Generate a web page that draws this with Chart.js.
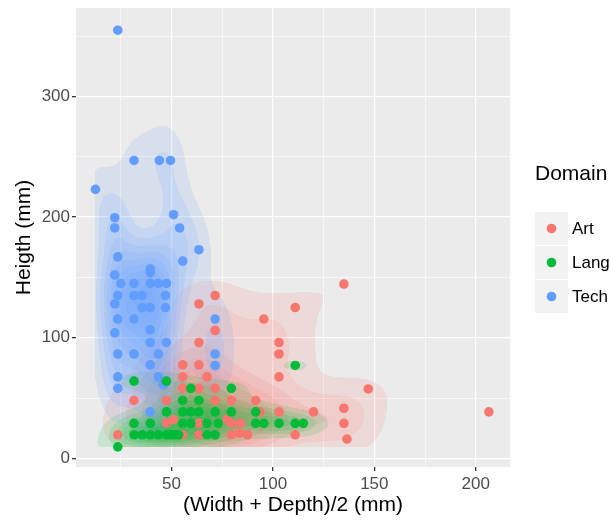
<!DOCTYPE html>
<html>
<head>
<meta charset="utf-8">
<script src="https://cdn.jsdelivr.net/npm/chart.js@4.4.1/dist/chart.umd.min.js"></script>
<style>
  html, body { margin: 0; padding: 0; background: #fff; }
  canvas { display: block; }
</style>
</head>
<body>
<canvas id="chart" width="611" height="520"></canvas>
<script>
// values
const domains = ['Art', 'Lang', 'Tech'];

const artX = [71.5, 63.5, 111, 95.5, 71.5, 63.5, 103, 103, 55.5, 63.5, 55.5, 67.5, 103, 55.5, 63.5, 71.5, 147,
  31.5, 47.5, 71.5, 79.5, 91.5, 93.5, 103, 120, 135, 206.5, 47.5, 51, 63.5, 77.5, 79.5, 84, 135, 135,
  23.5, 55.5, 63.5, 79.5, 83.5, 87.5, 111, 136.5];
const artY = [135, 128, 125, 115.5, 106, 96, 96, 86.5, 77.5, 77.5, 67.5, 67.5, 67.5, 58, 58, 58, 57.5,
  48, 48, 48, 48, 48, 38.5, 38.5, 38.5, 41.5, 38.5, 29.5, 32, 29, 32, 29, 29, 29, 144.5,
  19.5, 19.5, 19.5, 19.5, 21, 19.5, 19.5, 16];

const langX = [31.5, 47.5, 59.5, 79.5, 111, 55.5, 63.5, 47.5, 55.5, 59.5, 63.5, 71.5, 79.5, 91.5,
  31.5, 39.5, 55.5, 59.5, 67.5, 73, 91.5, 95.5, 103, 111, 115,
  31.5, 35.5, 39.5, 43.5, 47.5, 49.5, 51.5, 53.5, 67.5, 71.5, 23.5];
const langY = [64, 64, 58, 58, 77, 48, 48, 38.5, 38.5, 38.5, 38.5, 38.5, 38.5, 38.5,
  29, 29, 29, 29, 29, 29, 29, 29, 29, 29, 29,
  19.5, 19.5, 19.5, 19.5, 19.5, 19.5, 19.5, 19.5, 19.5, 19.5, 9.5];

const techX = [23.5, 31.5, 44, 49.5, 12.5, 22, 22, 51, 54, 63.5, 23.5, 55.5, 39.5, 39.5, 22,
  25, 31.5, 39.5, 43.5, 47.5, 23.5, 31.5, 35.5, 47, 22, 35.5, 39.5, 47, 23.5, 31.5, 22, 39.5,
  39.5, 47.5, 23.5, 31.5, 43.5, 39.5, 23.5, 43.5, 23.5, 46, 39.5, 71.5, 71.5, 71.5];
const techY = [355, 247, 247, 247, 223, 199.5, 191, 202, 191, 173, 167, 163.5, 157, 154, 152,
  145, 145, 145, 145, 145, 135, 135, 135, 135, 128, 125, 125, 125, 115.5, 115.5, 104, 106.5,
  96, 96, 86.5, 86.5, 86.5, 77.5, 67.5, 67.5, 58, 61, 38.5, 115.5, 86.5, 77];

const xMajor = [50, 100, 150, 200];
const xMinor = [25, 75, 125, 175];
const yMajor = [0, 100, 200, 300];
const yMinor = [50, 150, 250, 350];

const colors = { Art: '#F8766D', Lang: '#00BA38', Tech: '#619CFF' };
const densAlpha = 0.14;
const densBins = { Art: 6, Lang: 15, Tech: 14 };
const font = "'Liberation Sans', Arial, sans-serif";

const toPts = (xs, ys) => xs.map((x, i) => ({ x, y: ys[i] }));
const groups = { Art: [artX, artY], Lang: [langX, langY], Tech: [techX, techY] };

// MASS::bandwidth.nrd
function bwNrd(v) {
  const s = [...v].sort((a, b) => a - b);
  const q = p => {
    const h = (s.length - 1) * p, lo = Math.floor(h);
    return s[lo] + (h - lo) * (s[Math.min(lo + 1, s.length - 1)] - s[lo]);
  };
  const m = v.reduce((a, b) => a + b, 0) / v.length;
  const sd = Math.sqrt(v.reduce((a, b) => a + (b - m) ** 2, 0) / (v.length - 1));
  return 4 * 1.06 * Math.min(sd, (q(0.75) - q(0.25)) / 1.34) * Math.pow(v.length, -0.2);
}

// base R pretty(), good enough here
function pretty(lo, hi, n) {
  const cell = (hi - lo) / n;
  const U = Math.pow(10, Math.floor(Math.log10(cell)));
  let unit = U;
  if (2 * U - cell < 1.5 * (cell - unit)) {
    unit = 2 * U;
    if (5 * U - cell < 2.75 * (cell - unit)) {
      unit = 5 * U;
      if (10 * U - cell < 1.5 * (cell - unit)) unit = 10 * U;
    }
  }
  const out = [];
  for (let k = Math.floor(lo / unit + 1e-7); k <= Math.ceil(hi / unit - 1e-7); k++) out.push(k * unit);
  return out;
}

const dnorm = u => Math.exp(-0.5 * u * u) / Math.sqrt(2 * Math.PI);

function makeKde(xs, ys) {
  const hx = bwNrd(xs) / 4, hy = bwNrd(ys) / 4, n = xs.length;
  return { xs, ys, hx, hy, n };
}

let densCache = null;

const panelBg = {
  id: 'panelBg',
  beforeDraw(chart) {
    const { ctx, chartArea: a } = chart;
    ctx.save();
    ctx.fillStyle = '#EBEBEB';
    ctx.fillRect(a.left, a.top, a.right - a.left, a.bottom - a.top);
    ctx.restore();
  }
};

const density = {
  id: 'density',
  beforeDatasetsDraw(chart) {
    const { ctx, chartArea: a, scales: { x, y } } = chart;
    const w = Math.round(a.right - a.left), h = Math.round(a.bottom - a.top);
    if (!densCache) {
      const allX = [...artX, ...langX, ...techX], allY = [...artY, ...langY, ...techY];
      const lx = [Math.min(...allX), Math.max(...allX)], ly = [Math.min(...allY), Math.max(...allY)];
      const layers = domains.map(d => {
        const k = makeKde(groups[d][0], groups[d][1]);
        // grid max like kde2d n = 100
        let zmax = 0;
        for (let i = 0; i < 100; i++) {
          const gx = lx[0] + (lx[1] - lx[0]) * i / 99;
          for (let j = 0; j < 100; j++) {
            const gy = ly[0] + (ly[1] - ly[0]) * j / 99;
            let z = 0;
            for (let p = 0; p < k.n; p++) z += dnorm((gx - k.xs[p]) / k.hx) * dnorm((gy - k.ys[p]) / k.hy);
            z /= k.n * k.hx * k.hy;
            if (z > zmax) zmax = z;
          }
        }
        const levels = pretty(0, zmax, densBins[d]).filter(b => b > 0 && b <= zmax);
        const hexc = colors[d];
        const rgb = [1, 3, 5].map(o => parseInt(hexc.substr(o, 2), 16));
        return { k, levels, rgb };
      });
      const img = new ImageData(w, h);
      const colX = [], rowY = [];
      for (let c = 0; c < w; c++) colX.push(x.getValueForPixel(a.left + c + 0.5));
      for (let r = 0; r < h; r++) rowY.push(y.getValueForPixel(a.top + r + 0.5));
      const ex = layers.map(L => colX.map(gx => L.k.xs.map(xi => dnorm((gx - xi) / L.k.hx))));
      for (let r = 0; r < h; r++) {
        const gy = rowY[r];
        if (gy < ly[0] || gy > ly[1]) continue;
        const ey = layers.map(L => L.k.ys.map(yi => dnorm((gy - yi) / L.k.hy)));
        for (let c = 0; c < w; c++) {
          const gx = colX[c];
          if (gx < lx[0] || gx > lx[1]) continue;
          let R = 0, G = 0, B = 0, A = 0;
          layers.forEach((L, li) => {
            const exc = ex[li][c], eyr = ey[li];
            let z = 0;
            for (let p = 0; p < L.k.n; p++) z += exc[p] * eyr[p];
            z /= L.k.n * L.k.hx * L.k.hy;
            let cnt = 0;
            for (const lv of L.levels) if (z >= lv) cnt++;
            if (cnt) {
              const t = Math.pow(1 - densAlpha, cnt);
              R = L.rgb[0] * (1 - t) + R * t;
              G = L.rgb[1] * (1 - t) + G * t;
              B = L.rgb[2] * (1 - t) + B * t;
              A = (1 - t) + A * t;
            }
          });
          if (A > 0) {
            const o = (r * w + c) * 4;
            img.data[o] = R / A; img.data[o + 1] = G / A; img.data[o + 2] = B / A;
            img.data[o + 3] = A * 255;
          }
        }
      }
      const off = document.createElement('canvas');
      off.width = w; off.height = h;
      off.getContext('2d').putImageData(img, 0, 0);
      densCache = off;
    }
    ctx.drawImage(densCache, a.left, a.top);
  }
};

const decorations = {
  id: 'decorations',
  afterDraw(chart) {
    const { ctx, chartArea: a } = chart;
    ctx.save();
    ctx.fillStyle = '#000';
    ctx.font = `21px ${font}`;
    ctx.textAlign = 'center';
    ctx.textBaseline = 'middle';
    ctx.fillText('(Width + Depth)/2 (mm)', (a.left + a.right) / 2, 505);
    ctx.save();
    ctx.translate(24, (a.top + a.bottom) / 2);
    ctx.rotate(-Math.PI / 2);
    ctx.fillText('Heigth (mm)', 0, 0);
    ctx.restore();

    // legend
    ctx.textAlign = 'left';
    ctx.fillText('Domain', 535, 174);
    ctx.font = `17px ${font}`;
    domains.forEach((d, i) => {
      const top = 212 + i * 34;
      ctx.fillStyle = '#F2F2F2';
      ctx.fillRect(535, top, 33, 33);
      ctx.fillStyle = colors[d];
      ctx.beginPath();
      ctx.arc(551.5, top + 16.5, 4.8, 0, Math.PI * 2);
      ctx.fill();
      ctx.fillStyle = '#000';
      ctx.fillText(d, 572, top + 17);
    });
    ctx.restore();
  }
};

const isMajor = (v, majors) => majors.includes(v);

function axis(min, max, majors, minors, isX) {
  const all = [...majors, ...minors].sort((p, q) => p - q);
  return {
    type: 'linear',
    min, max,
    afterBuildTicks: s => { s.ticks = all.map(v => ({ value: v })); },
    afterFit: s => {
      if (isX) { s.height = 53; s.paddingLeft = 0; s.paddingRight = 0; }
      else { s.width = 76; s.paddingTop = 0; s.paddingBottom = 0; }
    },
    border: { display: false },
    grid: {
      color: '#FFFFFF',
      lineWidth: c => (c.tick && isMajor(c.tick.value, majors) ? 1.3 : 0.6),
      tickColor: c => (c.tick && isMajor(c.tick.value, majors) ? '#333333' : 'rgba(0,0,0,0)'),
      tickLength: 4,
      drawTicks: true
    },
    ticks: {
      autoSkip: false,
      maxRotation: 0,
      padding: isX ? 3 : 2,
      color: '#4D4D4D',
      font: { family: font, size: 17 },
      callback: v => (isMajor(v, majors) ? String(v) : '')
    }
  };
}

new Chart(document.getElementById('chart'), {
  type: 'scatter',
  data: {
    datasets: [
      { label: 'Lang', data: toPts(langX, langY), backgroundColor: colors.Lang },
      { label: 'Tech', data: toPts(techX, techY), backgroundColor: colors.Tech },
      { label: 'Art', data: toPts(artX, artY), backgroundColor: colors.Art }
    ]
  },
  options: {
    responsive: false,
    animation: false,
    layout: { padding: { top: 8, right: 101, left: 0, bottom: 0 } },
    elements: { point: { radius: 4.8, borderWidth: 0, hoverRadius: 4.8 } },
    plugins: { legend: { display: false }, tooltip: { enabled: false } },
    scales: {
      x: axis(2.9, 216.9, xMajor, xMinor, true),
      y: axis(-7.2, 373.4, yMajor, yMinor, false)
    }
  },
  plugins: [panelBg, density, decorations]
});
</script>
</body>
</html>
